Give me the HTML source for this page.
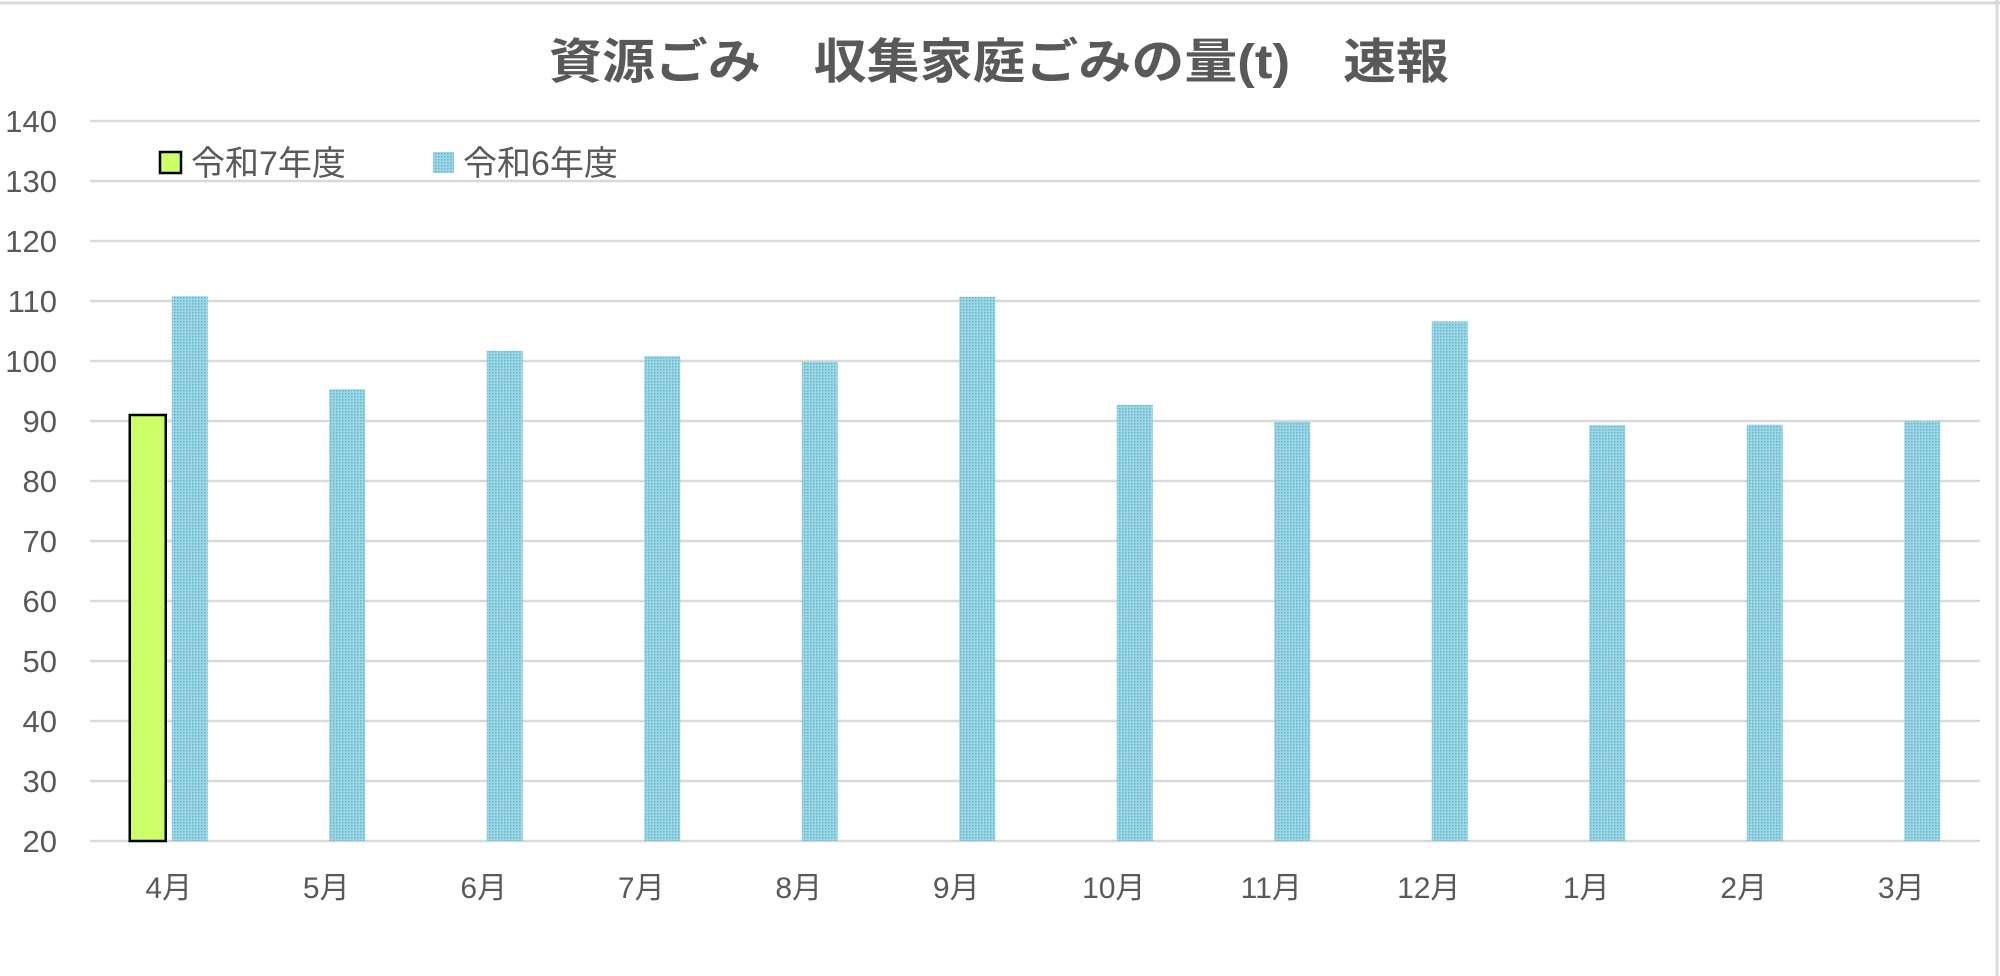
<!DOCTYPE html>
<html><head><meta charset="utf-8"><style>
html,body{margin:0;padding:0;background:#fff;}
svg{display:block;font-family:"Liberation Sans","Noto Sans CJK JP",sans-serif;}
</style></head><body>
<svg id="chart" width="2000" height="976" viewBox="0 0 2000 976">
<defs>
<pattern id="dots" width="3" height="3" patternUnits="userSpaceOnUse">
<rect width="3" height="3" fill="#9fd6e3"/>
<rect width="1.5" height="1.5" fill="#5fb8cf"/>
</pattern>
</defs>
<line x1="0" y1="3" x2="2000" y2="3" stroke="#d9d9d9" stroke-width="3"/>
<line x1="1997" y1="0" x2="1997" y2="976" stroke="#d9d9d9" stroke-width="3"/>
<text x="999" y="78" text-anchor="middle" font-size="48" font-weight="bold" fill="#595959" textLength="900" lengthAdjust="spacingAndGlyphs">資源ごみ　収集家庭ごみの量(t)　速報</text>
<g id="grid"></g>
<g id="yticks"></g>
<g id="bars"></g>
<g id="xticks"></g>
<g>
<g>
<rect x="160" y="152" width="21" height="21" fill="#ccff66" stroke="#000" stroke-width="2.5"/>
<text x="191" y="175" font-size="34" fill="#595959">令和7年度</text>
</g>
<g>
<rect x="433" y="152" width="21" height="21" fill="url(#dots)"/>
<text x="463" y="175" font-size="34" fill="#595959">令和6年度</text>
</g>
</g>
</svg>
<script>
const categories = ["4月","5月","6月","7月","8月","9月","10月","11月","12月","1月","2月","3月"];
const seriesR7 = [91, 0, 0, 0, 0, 0, 0, 0, 0, 0, 0, 0];
const seriesR6 = [110.8, 95.3, 101.7, 100.8, 99.9, 110.7, 92.7, 89.9, 106.6, 89.3, 89.4, 90.0];
const yTicks = [20,30,40,50,60,70,80,90,100,110,120,130,140];

const NS = "http://www.w3.org/2000/svg";
const X0 = 90, X1 = 1980, YMIN = 20, YMAX = 140, YTOP = 121, YBOT = 841;
const step = (X1 - X0) / categories.length;
function xCenter(i){ return X0 + step * (i + 0.5); }
function yScale(v){ return YBOT - (Math.max(v, YMIN) - YMIN) / (YMAX - YMIN) * (YBOT - YTOP); }
function mk(tag, attrs){ const e = document.createElementNS(NS, tag); for (const k in attrs) e.setAttribute(k, attrs[k]); return e; }

const grid = document.getElementById('grid');
const yt = document.getElementById('yticks');
yTicks.forEach(t => {
  const y = yScale(t);
  const l = mk('line', {x1: X0, x2: X1, y1: y, y2: y, stroke: '#d9d9d9', 'stroke-width': 2.5});
  
  
  grid.appendChild(l);
  const tx = mk('text', {x: 57, y: y + 11, 'text-anchor': 'end', 'font-size': 31, fill: '#595959'});
  tx.textContent = t;
  
  
  yt.appendChild(tx);
});

const bars = document.getElementById('bars');
const xt = document.getElementById('xticks');
const BW = 36, OFF = 21;
categories.forEach((c, i) => {
  const cx = xCenter(i);
  const v7 = seriesR7[i];
  if (v7 > YMIN) {
    const y = yScale(v7);
    const r = mk('rect', {x: cx - OFF - BW/2, y: y, width: BW, height: YBOT - y, fill: '#ccff66', stroke: '#000', 'stroke-width': 2.5});
    
    
    bars.appendChild(r);
  }
  const y6 = yScale(seriesR6[i]);
  const r6 = mk('rect', {x: cx + OFF - BW/2, y: y6, width: BW, height: YBOT - y6, fill: 'url(#dots)'});
  
  
  bars.appendChild(r6);
  const tx = mk('text', {x: cx, y: 898, 'text-anchor': 'middle', 'font-size': 30, fill: '#595959'});
  tx.textContent = c;
  
  
  xt.appendChild(tx);
});
</script>
</body></html>
